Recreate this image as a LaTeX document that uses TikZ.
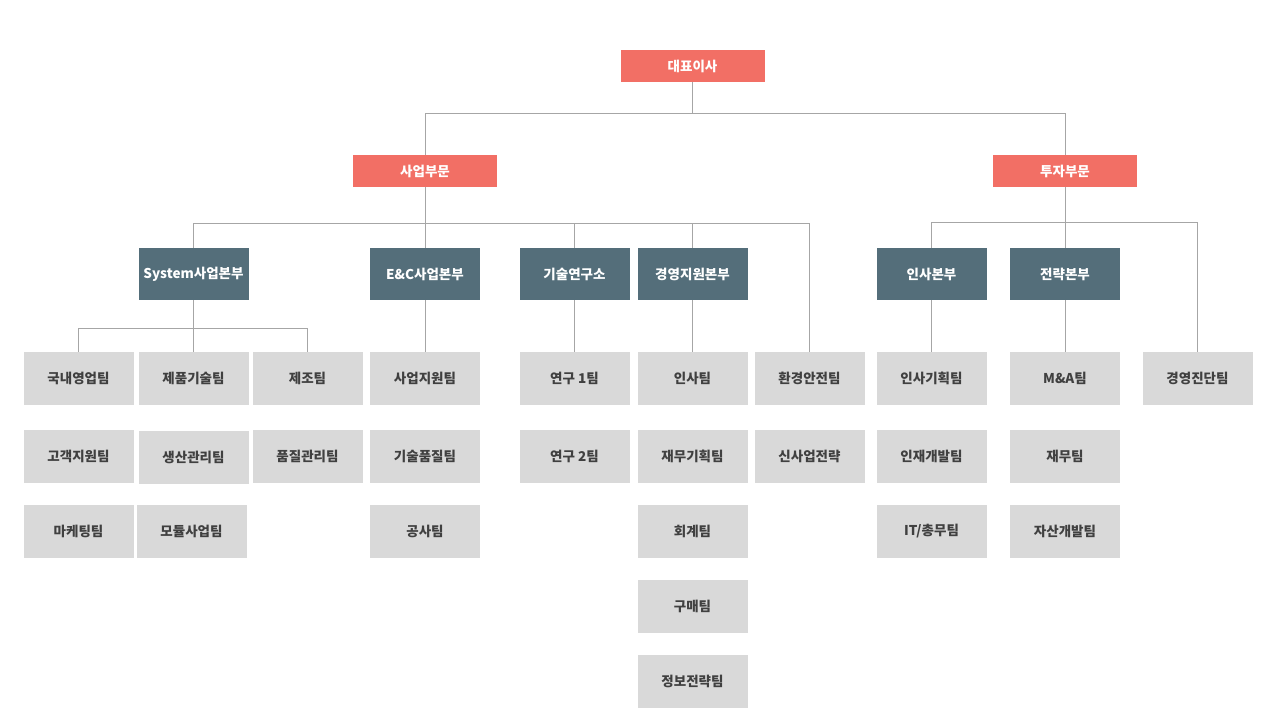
\documentclass[tikz,border=0pt]{standalone}
\usepackage{fontspec}
\setmainfont{Noto Sans CJK KR}
\definecolor{topred}{HTML}{F26F65}
\definecolor{slate}{HTML}{546E7A}
\definecolor{teamgray}{HTML}{D9D9D9}
\definecolor{linegray}{HTML}{A6A6A6}
\definecolor{txtgray}{HTML}{404040}
\tikzset{
	headbox/.style={fill=topred, text=white, font=\fontsize{13.5}{15}\selectfont\bfseries,
		minimum width=144, minimum height=32, inner sep=0},
	divbox/.style={fill=slate, text=white, font=\fontsize{13.5}{15}\selectfont\bfseries,
		minimum width=110, minimum height=52, inner sep=0},
	teambox/.style={fill=teamgray, text=txtgray, font=\fontsize{13.5}{15}\selectfont\bfseries,
		minimum width=110, minimum height=53, inner sep=0},
	link/.style={draw=linegray, line width=0.9pt},
}
\begin{document}
\begin{tikzpicture}[x=1pt, y=-1pt]
		\useasboundingbox (0,0) rectangle (1280,720);
		% 대표이사・부문
		\node [headbox] (ceo) at (692.5,66) {대표이사};
		\node [headbox] (biz) at (425,171) {사업부문};
		\node [headbox] (inv) at (1065,171) {투자부문};
		% 본부
		\node [divbox] (sys) at (193.5,274) {System사업본부};
		\node [divbox] (enc) at (425,274) {E\&C사업본부};
		\node [divbox] (lab) at (574.5,274) {기술연구소};
		\node [divbox] (mgt) at (692.5,274) {경영지원본부};
		\node [divbox] (hr) at (931.5,274) {인사본부};
		\node [divbox] (strat) at (1065,274) {전략본부};
		% 팀 (System사업본부)
		\node [teambox] (sysA) at (78.5,378.5) {국내영업팀};
		\node [teambox] (sysB) at (193.5,378.5) {제품기술팀};
		\node [teambox] (sysC) at (307.5,378.5) {제조팀};
		\node [teambox] (sysD) at (78.5,456.5) {고객지원팀};
		\node [teambox] (sysE) at (193.5,457.5) {생산관리팀};
		\node [teambox] (sysF) at (307.5,456.5) {품질관리팀};
		\node [teambox] (sysG) at (78.5,531.5) {마케팅팀};
		\node [teambox] (sysH) at (191.5,531.5) {모듈사업팀};
		% 팀 (E&C사업본부)
		\node [teambox] (encA) at (425,378.5) {사업지원팀};
		\node [teambox] (encB) at (425,456.5) {기술품질팀};
		\node [teambox] (encC) at (425,531.5) {공사팀};
		% 팀 (기술연구소)
		\node [teambox] (labA) at (574.5,378.5) {연구 1팀};
		\node [teambox] (labB) at (574.5,456.5) {연구 2팀};
		% 팀 (경영지원본부)
		\node [teambox] (mgtA) at (692.5,378.5) {인사팀};
		\node [teambox] (mgtB) at (692.5,456.5) {재무기획팀};
		\node [teambox] (mgtC) at (692.5,531.5) {회계팀};
		\node [teambox] (mgtD) at (692.5,606) {구매팀};
		\node [teambox] (mgtE) at (692.5,681) {정보전략팀};
		% 팀 (환경안전)
		\node [teambox] (envA) at (809.5,378.5) {환경안전팀};
		\node [teambox] (envB) at (809.5,456) {신사업전략};
		% 팀 (인사본부・전략본부)
		\node [teambox] (hrA) at (931.5,378.5) {인사기획팀};
		\node [teambox] (hrB) at (931.5,456.5) {인재개발팀};
		\node [teambox] (hrC) at (931.5,531.5) {IT/총무팀};
		\node [teambox] (stratA) at (1065,378.5) {M\&A팀};
		\node [teambox] (stratB) at (1065,456.5) {재무팀};
		\node [teambox] (stratC) at (1065,531.5) {자산개발팀};
		\node [teambox] (diag) at (1197.5,378.5) {경영진단팀};
		% 연결선
		\coordinate (busA) at (0,113);
		\coordinate (busB) at (0,223);
		\coordinate (busC) at (0,222);
		\coordinate (busD) at (0,328);
		\draw [link] (ceo.south) -- (ceo.south |- busA) -| (biz.north);
		\draw [link] (ceo.south |- busA) -| (inv.north);
		\draw [link] (biz.south) -- (biz.south |- busB);
		\foreach \n in {sys,enc,lab,mgt,envA}
			\draw [link] (biz.south |- busB) -| (\n.north);
		\draw [link] (inv.south) -- (inv.south |- busC);
		\foreach \n in {hr,strat,diag}
			\draw [link] (inv.south |- busC) -| (\n.north);
		\draw [link] (sys.south) -- (sys.south |- busD);
		\foreach \n in {sysA,sysB,sysC}
			\draw [link] (sys.south |- busD) -| (\n.north);
		\draw [link] (enc) -- (encA);
		\draw [link] (lab) -- (labA);
		\draw [link] (mgt) -- (mgtA);
		\draw [link] (hr) -- (hrA);
		\draw [link] (strat) -- (stratA);
	\end{tikzpicture}
\end{document}
